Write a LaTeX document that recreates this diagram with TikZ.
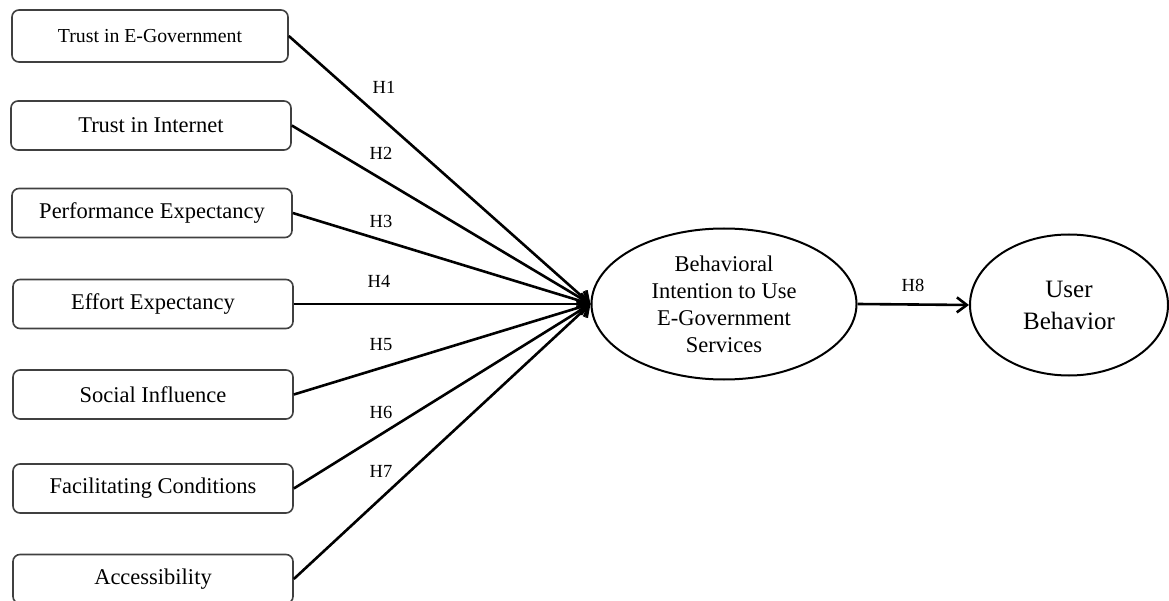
\documentclass[tikz,border=0pt]{standalone}
\usepackage{fontspec}
\setmainfont{Liberation Serif}
\usetikzlibrary{shapes.geometric,arrows.meta}

\tikzset{
	construct/.style={draw=black!75, line width=1.6pt, rounded corners=7pt, minimum width=280pt, minimum height=49pt, inner sep=0pt, font=\fontsize{22.5}{27}\selectfont},
	latent/.style={draw, ellipse, line width=2pt, inner sep=0pt, align=center},
	path/.style={line width=2.6pt, -{Straight Barb[length=10pt,width=15pt,line width=2.6pt]}},
	hyp/.style={font=\fontsize{18.5}{22}\selectfont}
}

\begin{document}
\begin{tikzpicture}[x=1pt, y=-1pt]
		\useasboundingbox (0,0) rectangle (1169,601);

		% Draw the independent constructs
		\node[construct, minimum width=276pt, minimum height=52pt, font=\fontsize{19.8}{24}\selectfont] (te) at (150, 36) {Trust in E-Government};
		\node[construct] (ti) at (151,125.5) {Trust in Internet};
		\node[construct] (pe) at (152, 213) {Performance Expectancy};
		\node[construct] (ee) at (153, 304) {Effort Expectancy};
		\node[construct] (si) at (153,394.5) {Social Influence};
		\node[construct] (fc) at (153,488.5) {Facilitating Conditions};
		\node[construct] (acc) at (153, 579) {Accessibility};

		% Draw the dependent constructs
		\node[latent, minimum width=265pt, minimum height=151pt, font=\fontsize{22.5}{27}\selectfont] (bi) at (724, 304) {Behavioral\\Intention to Use\\E-Government\\Services};
		\node[latent, minimum width=198pt, minimum height=141pt, font=\fontsize{25}{32}\selectfont] (ub) at (1069, 305) {User\\Behavior};

		% Draw the hypothesised paths
		\draw[path] (te.east) -- (bi.west);
		\draw[path] (ti.east) -- (bi.west);
		\draw[path] (pe.east) -- (bi.west);
		\draw[path] (ee.east) -- (bi.west);
		\draw[path] (si.east) -- (bi.west);
		\draw[path] (fc.east) -- (bi.west);
		\draw[path] (acc.east) -- (bi.west);
		\draw[path] (bi.east) -- (ub.west);

		% Label the paths
		\node[hyp] (h1) at (384, 87) {H1};
		\node[hyp] (h2) at (381,153) {H2};
		\node[hyp] (h3) at (381,221) {H3};
		\node[hyp] (h4) at (379,281) {H4};
		\node[hyp] (h5) at (381,345) {H5};
		\node[hyp] (h6) at (381,412) {H6};
		\node[hyp] (h7) at (381,471) {H7};
		\node[hyp] (h8) at (913,285) {H8};

	\end{tikzpicture}
\end{document}
